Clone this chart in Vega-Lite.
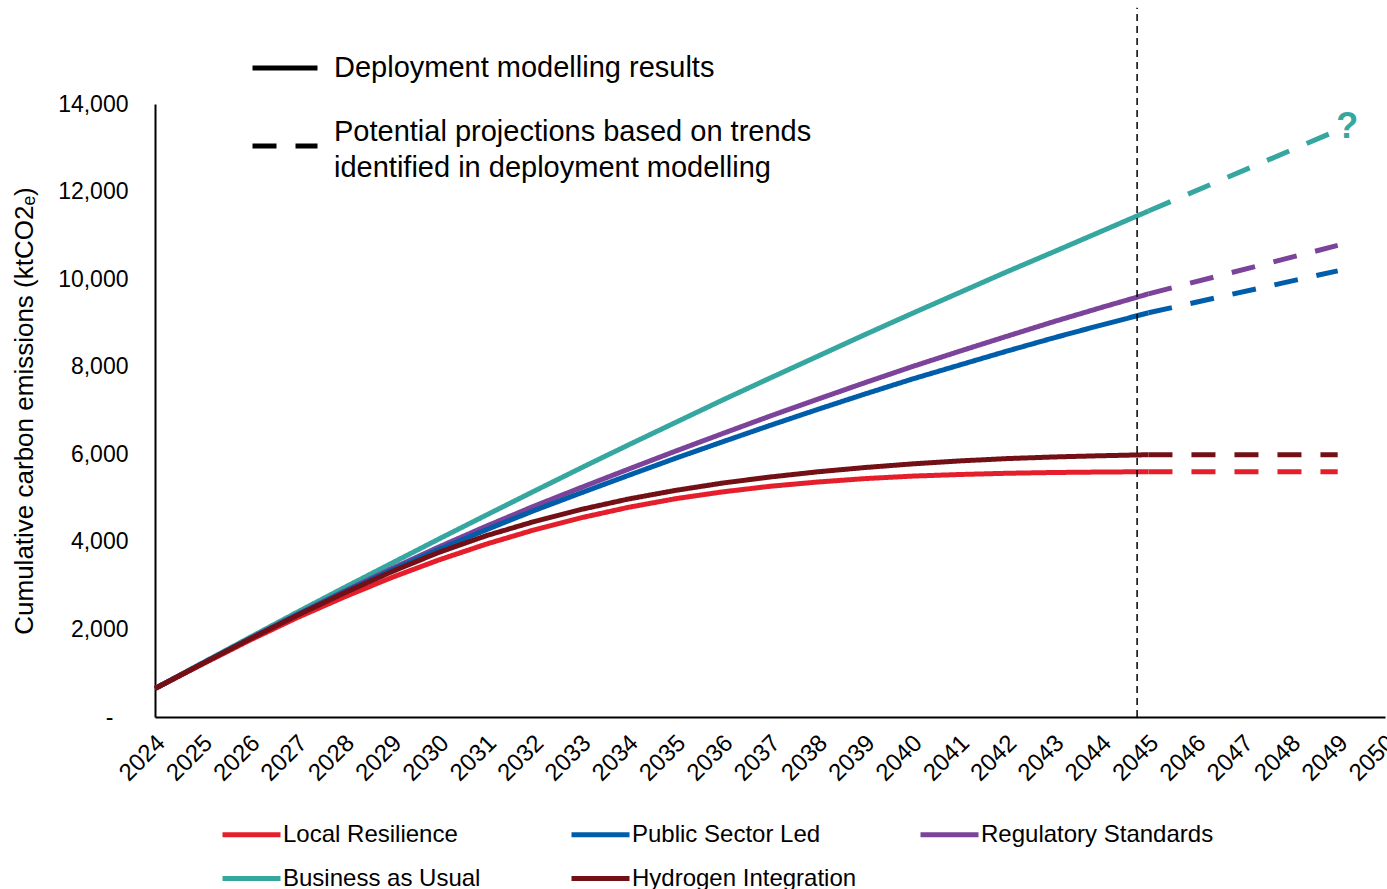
{
  "$schema": "https://vega.github.io/schema/vega-lite/v6.json",
  "width": 1230,
  "height": 613,
  "autosize": {"type": "none"},
  "padding": {"left": 155, "top": 104, "right": 2, "bottom": 172},
  "background": "white",
  "config": {
    "view": {"stroke": null},
    "font": "Liberation Sans",
    "axis": {"grid": false, "ticks": false, "tickSize": 0, "domainColor": "black", "domainWidth": 2, "labelColor": "black", "labelFont": "Liberation Sans", "titleFont": "Liberation Sans", "titleColor": "black", "titleFontWeight": "normal"},
    "legend": {"labelFont": "Liberation Sans", "labelColor": "black"}
  },
  "datasets": {
    "lines": [
      {"scenario": "Business as Usual", "segment": "Deployment modelling results", "year": 2024, "value": 650},
      {"scenario": "Business as Usual", "segment": "Deployment modelling results", "year": 2025, "value": 1235},
      {"scenario": "Business as Usual", "segment": "Deployment modelling results", "year": 2026, "value": 1815},
      {"scenario": "Business as Usual", "segment": "Deployment modelling results", "year": 2027, "value": 2390},
      {"scenario": "Business as Usual", "segment": "Deployment modelling results", "year": 2028, "value": 2955},
      {"scenario": "Business as Usual", "segment": "Deployment modelling results", "year": 2029, "value": 3510},
      {"scenario": "Business as Usual", "segment": "Deployment modelling results", "year": 2030, "value": 4065},
      {"scenario": "Business as Usual", "segment": "Deployment modelling results", "year": 2031, "value": 4610},
      {"scenario": "Business as Usual", "segment": "Deployment modelling results", "year": 2032, "value": 5150},
      {"scenario": "Business as Usual", "segment": "Deployment modelling results", "year": 2033, "value": 5685},
      {"scenario": "Business as Usual", "segment": "Deployment modelling results", "year": 2034, "value": 6210},
      {"scenario": "Business as Usual", "segment": "Deployment modelling results", "year": 2035, "value": 6725},
      {"scenario": "Business as Usual", "segment": "Deployment modelling results", "year": 2036, "value": 7240},
      {"scenario": "Business as Usual", "segment": "Deployment modelling results", "year": 2037, "value": 7740},
      {"scenario": "Business as Usual", "segment": "Deployment modelling results", "year": 2038, "value": 8235},
      {"scenario": "Business as Usual", "segment": "Deployment modelling results", "year": 2039, "value": 8730},
      {"scenario": "Business as Usual", "segment": "Deployment modelling results", "year": 2040, "value": 9215},
      {"scenario": "Business as Usual", "segment": "Deployment modelling results", "year": 2041, "value": 9690},
      {"scenario": "Business as Usual", "segment": "Deployment modelling results", "year": 2042, "value": 10165},
      {"scenario": "Business as Usual", "segment": "Deployment modelling results", "year": 2043, "value": 10625},
      {"scenario": "Business as Usual", "segment": "Deployment modelling results", "year": 2044, "value": 11090},
      {"scenario": "Business as Usual", "segment": "Deployment modelling results", "year": 2045, "value": 11555},
      {"scenario": "Regulatory Standards", "segment": "Deployment modelling results", "year": 2024, "value": 650},
      {"scenario": "Regulatory Standards", "segment": "Deployment modelling results", "year": 2025, "value": 1221},
      {"scenario": "Regulatory Standards", "segment": "Deployment modelling results", "year": 2026, "value": 1788},
      {"scenario": "Regulatory Standards", "segment": "Deployment modelling results", "year": 2027, "value": 2338},
      {"scenario": "Regulatory Standards", "segment": "Deployment modelling results", "year": 2028, "value": 2874},
      {"scenario": "Regulatory Standards", "segment": "Deployment modelling results", "year": 2029, "value": 3388},
      {"scenario": "Regulatory Standards", "segment": "Deployment modelling results", "year": 2030, "value": 3883},
      {"scenario": "Regulatory Standards", "segment": "Deployment modelling results", "year": 2031, "value": 4357},
      {"scenario": "Regulatory Standards", "segment": "Deployment modelling results", "year": 2032, "value": 4810},
      {"scenario": "Regulatory Standards", "segment": "Deployment modelling results", "year": 2033, "value": 5238},
      {"scenario": "Regulatory Standards", "segment": "Deployment modelling results", "year": 2034, "value": 5657},
      {"scenario": "Regulatory Standards", "segment": "Deployment modelling results", "year": 2035, "value": 6071},
      {"scenario": "Regulatory Standards", "segment": "Deployment modelling results", "year": 2036, "value": 6474},
      {"scenario": "Regulatory Standards", "segment": "Deployment modelling results", "year": 2037, "value": 6872},
      {"scenario": "Regulatory Standards", "segment": "Deployment modelling results", "year": 2038, "value": 7255},
      {"scenario": "Regulatory Standards", "segment": "Deployment modelling results", "year": 2039, "value": 7633},
      {"scenario": "Regulatory Standards", "segment": "Deployment modelling results", "year": 2040, "value": 8000},
      {"scenario": "Regulatory Standards", "segment": "Deployment modelling results", "year": 2041, "value": 8351},
      {"scenario": "Regulatory Standards", "segment": "Deployment modelling results", "year": 2042, "value": 8693},
      {"scenario": "Regulatory Standards", "segment": "Deployment modelling results", "year": 2043, "value": 9030},
      {"scenario": "Regulatory Standards", "segment": "Deployment modelling results", "year": 2044, "value": 9351},
      {"scenario": "Regulatory Standards", "segment": "Deployment modelling results", "year": 2045, "value": 9664},
      {"scenario": "Public Sector Led", "segment": "Deployment modelling results", "year": 2024, "value": 650},
      {"scenario": "Public Sector Led", "segment": "Deployment modelling results", "year": 2025, "value": 1221},
      {"scenario": "Public Sector Led", "segment": "Deployment modelling results", "year": 2026, "value": 1783},
      {"scenario": "Public Sector Led", "segment": "Deployment modelling results", "year": 2027, "value": 2328},
      {"scenario": "Public Sector Led", "segment": "Deployment modelling results", "year": 2028, "value": 2854},
      {"scenario": "Public Sector Led", "segment": "Deployment modelling results", "year": 2029, "value": 3353},
      {"scenario": "Public Sector Led", "segment": "Deployment modelling results", "year": 2030, "value": 3827},
      {"scenario": "Public Sector Led", "segment": "Deployment modelling results", "year": 2031, "value": 4275},
      {"scenario": "Public Sector Led", "segment": "Deployment modelling results", "year": 2032, "value": 4709},
      {"scenario": "Public Sector Led", "segment": "Deployment modelling results", "year": 2033, "value": 5116},
      {"scenario": "Public Sector Led", "segment": "Deployment modelling results", "year": 2034, "value": 5515},
      {"scenario": "Public Sector Led", "segment": "Deployment modelling results", "year": 2035, "value": 5908},
      {"scenario": "Public Sector Led", "segment": "Deployment modelling results", "year": 2036, "value": 6286},
      {"scenario": "Public Sector Led", "segment": "Deployment modelling results", "year": 2037, "value": 6659},
      {"scenario": "Public Sector Led", "segment": "Deployment modelling results", "year": 2038, "value": 7022},
      {"scenario": "Public Sector Led", "segment": "Deployment modelling results", "year": 2039, "value": 7374},
      {"scenario": "Public Sector Led", "segment": "Deployment modelling results", "year": 2040, "value": 7716},
      {"scenario": "Public Sector Led", "segment": "Deployment modelling results", "year": 2041, "value": 8036},
      {"scenario": "Public Sector Led", "segment": "Deployment modelling results", "year": 2042, "value": 8354},
      {"scenario": "Public Sector Led", "segment": "Deployment modelling results", "year": 2043, "value": 8660},
      {"scenario": "Public Sector Led", "segment": "Deployment modelling results", "year": 2044, "value": 8951},
      {"scenario": "Public Sector Led", "segment": "Deployment modelling results", "year": 2045, "value": 9231},
      {"scenario": "Local Resilience", "segment": "Deployment modelling results", "year": 2024, "value": 650},
      {"scenario": "Local Resilience", "segment": "Deployment modelling results", "year": 2025, "value": 1206},
      {"scenario": "Local Resilience", "segment": "Deployment modelling results", "year": 2026, "value": 1752},
      {"scenario": "Local Resilience", "segment": "Deployment modelling results", "year": 2027, "value": 2267},
      {"scenario": "Local Resilience", "segment": "Deployment modelling results", "year": 2028, "value": 2741},
      {"scenario": "Local Resilience", "segment": "Deployment modelling results", "year": 2029, "value": 3185},
      {"scenario": "Local Resilience", "segment": "Deployment modelling results", "year": 2030, "value": 3587},
      {"scenario": "Local Resilience", "segment": "Deployment modelling results", "year": 2031, "value": 3948},
      {"scenario": "Local Resilience", "segment": "Deployment modelling results", "year": 2032, "value": 4269},
      {"scenario": "Local Resilience", "segment": "Deployment modelling results", "year": 2033, "value": 4548},
      {"scenario": "Local Resilience", "segment": "Deployment modelling results", "year": 2034, "value": 4787},
      {"scenario": "Local Resilience", "segment": "Deployment modelling results", "year": 2035, "value": 4985},
      {"scenario": "Local Resilience", "segment": "Deployment modelling results", "year": 2036, "value": 5142},
      {"scenario": "Local Resilience", "segment": "Deployment modelling results", "year": 2037, "value": 5269},
      {"scenario": "Local Resilience", "segment": "Deployment modelling results", "year": 2038, "value": 5366},
      {"scenario": "Local Resilience", "segment": "Deployment modelling results", "year": 2039, "value": 5444},
      {"scenario": "Local Resilience", "segment": "Deployment modelling results", "year": 2040, "value": 5501},
      {"scenario": "Local Resilience", "segment": "Deployment modelling results", "year": 2041, "value": 5538},
      {"scenario": "Local Resilience", "segment": "Deployment modelling results", "year": 2042, "value": 5566},
      {"scenario": "Local Resilience", "segment": "Deployment modelling results", "year": 2043, "value": 5584},
      {"scenario": "Local Resilience", "segment": "Deployment modelling results", "year": 2044, "value": 5595},
      {"scenario": "Local Resilience", "segment": "Deployment modelling results", "year": 2045, "value": 5602},
      {"scenario": "Hydrogen Integration", "segment": "Deployment modelling results", "year": 2024, "value": 650},
      {"scenario": "Hydrogen Integration", "segment": "Deployment modelling results", "year": 2025, "value": 1216},
      {"scenario": "Hydrogen Integration", "segment": "Deployment modelling results", "year": 2026, "value": 1778},
      {"scenario": "Hydrogen Integration", "segment": "Deployment modelling results", "year": 2027, "value": 2318},
      {"scenario": "Hydrogen Integration", "segment": "Deployment modelling results", "year": 2028, "value": 2833},
      {"scenario": "Hydrogen Integration", "segment": "Deployment modelling results", "year": 2029, "value": 3317},
      {"scenario": "Hydrogen Integration", "segment": "Deployment modelling results", "year": 2030, "value": 3760},
      {"scenario": "Hydrogen Integration", "segment": "Deployment modelling results", "year": 2031, "value": 4140},
      {"scenario": "Hydrogen Integration", "segment": "Deployment modelling results", "year": 2032, "value": 4459},
      {"scenario": "Hydrogen Integration", "segment": "Deployment modelling results", "year": 2033, "value": 4738},
      {"scenario": "Hydrogen Integration", "segment": "Deployment modelling results", "year": 2034, "value": 4977},
      {"scenario": "Hydrogen Integration", "segment": "Deployment modelling results", "year": 2035, "value": 5175},
      {"scenario": "Hydrogen Integration", "segment": "Deployment modelling results", "year": 2036, "value": 5343},
      {"scenario": "Hydrogen Integration", "segment": "Deployment modelling results", "year": 2037, "value": 5481},
      {"scenario": "Hydrogen Integration", "segment": "Deployment modelling results", "year": 2038, "value": 5599},
      {"scenario": "Hydrogen Integration", "segment": "Deployment modelling results", "year": 2039, "value": 5697},
      {"scenario": "Hydrogen Integration", "segment": "Deployment modelling results", "year": 2040, "value": 5780},
      {"scenario": "Hydrogen Integration", "segment": "Deployment modelling results", "year": 2041, "value": 5848},
      {"scenario": "Hydrogen Integration", "segment": "Deployment modelling results", "year": 2042, "value": 5901},
      {"scenario": "Hydrogen Integration", "segment": "Deployment modelling results", "year": 2043, "value": 5939},
      {"scenario": "Hydrogen Integration", "segment": "Deployment modelling results", "year": 2044, "value": 5967},
      {"scenario": "Hydrogen Integration", "segment": "Deployment modelling results", "year": 2045, "value": 5990},
      {"scenario": "Business as Usual", "segment": "Potential projections based on trends identified in deployment modelling", "year": 2045, "value": 11555},
      {"scenario": "Business as Usual", "segment": "Potential projections based on trends identified in deployment modelling", "year": 2049, "value": 13400},
      {"scenario": "Regulatory Standards", "segment": "Potential projections based on trends identified in deployment modelling", "year": 2045, "value": 9664},
      {"scenario": "Regulatory Standards", "segment": "Potential projections based on trends identified in deployment modelling", "year": 2049, "value": 10770},
      {"scenario": "Public Sector Led", "segment": "Potential projections based on trends identified in deployment modelling", "year": 2045, "value": 9231},
      {"scenario": "Public Sector Led", "segment": "Potential projections based on trends identified in deployment modelling", "year": 2049, "value": 10190},
      {"scenario": "Local Resilience", "segment": "Potential projections based on trends identified in deployment modelling", "year": 2045, "value": 5602},
      {"scenario": "Local Resilience", "segment": "Potential projections based on trends identified in deployment modelling", "year": 2049, "value": 5602},
      {"scenario": "Hydrogen Integration", "segment": "Potential projections based on trends identified in deployment modelling", "year": 2045, "value": 5990},
      {"scenario": "Hydrogen Integration", "segment": "Potential projections based on trends identified in deployment modelling", "year": 2049, "value": 5990}
    ],
    "vline": [{"year": 2044.76, "value": 0, "top": 16200}],
    "qmark": [{"year": 2049.2, "value": 13474, "label": "?"}]
  },
  "layer": [
    {
      "data": {"name": "lines"},
      "mark": {"type": "line", "strokeWidth": 5, "strokeCap": "butt"},
      "encoding": {
        "x": {
          "field": "year", "type": "quantitative",
          "scale": {"domain": [2024, 2050], "nice": false, "zero": false},
          "axis": {
            "title": null,
            "values": [2024, 2025, 2026, 2027, 2028, 2029, 2030, 2031, 2032, 2033, 2034, 2035, 2036, 2037, 2038, 2039, 2040, 2041, 2042, 2043, 2044, 2045, 2046, 2047, 2048, 2049, 2050],
            "format": "d",
            "labelAngle": -45, "labelAlign": "right", "labelBaseline": "middle",
            "labelFontSize": 24, "labelPadding": 22, "labelOffset": 6,
            "labelOverlap": false, "labelFlush": false, "labelBound": false
          }
        },
        "y": {
          "field": "value", "type": "quantitative",
          "scale": {"domain": [0, 14000], "nice": false},
          "axis": {
            "title": "Cumulative carbon emissions (ktCO2ₑ)",
            "titleFontSize": 26, "titlePadding": 20,
            "values": [0, 2000, 4000, 6000, 8000, 10000, 12000, 14000],
            "labelExpr": "datum.value === 0 ? '-' : format(datum.value, ',')",
            "labelFontSize": 23,
            "labelPadding": {"condition": {"test": "datum.value === 0", "value": 42}, "value": 27}
          }
        },
        "color": {
          "field": "scenario", "type": "nominal",
          "scale": {
            "domain": ["Local Resilience", "Public Sector Led", "Regulatory Standards", "Business as Usual", "Hydrogen Integration"],
            "range": ["#E41E2B", "#005DAA", "#7B439A", "#35A7A0", "#731016"]
          },
          "legend": {
            "title": null, "orient": "none", "legendX": 65, "legendY": 699,
            "direction": "horizontal", "columns": 3, "gridAlign": "all",
            "columnPadding": 45, "rowPadding": 0, "padding": 0,
            "symbolType": "stroke", "symbolSize": 3364, "symbolStrokeWidth": 5,
            "labelFontSize": 24, "labelOffset": 0, "labelLimit": 500
          }
        },
        "strokeDash": {
          "field": "segment", "type": "nominal",
          "scale": {
            "domain": ["Deployment modelling results", "Potential projections based on trends identified in deployment modelling"],
            "range": [[1, 0], [24, 19]]
          },
          "legend": {
            "title": null, "orient": "none", "legendX": 95, "legendY": -71,
            "direction": "vertical", "rowPadding": 28, "padding": 0,
            "symbolType": "stroke", "symbolSize": 4225, "symbolStrokeWidth": 5, "symbolStrokeColor": "black",
            "labelFontSize": 29, "labelOffset": 14, "labelLimit": 900,
            "labelExpr": "datum.label == 'Deployment modelling results' ? datum.label : ['Potential projections based on trends', 'identified in deployment modelling']",
            "encode": {"labels": {"update": {"lineHeight": {"value": 36}, "dy": {"signal": "datum.value == 'Deployment modelling results' ? 0 : -14"}}}}
          }
        }
      }
    },
    {
      "data": {"name": "vline"},
      "mark": {"type": "rule", "color": "black", "strokeWidth": 1.5, "strokeDash": [7, 5]},
      "encoding": {
        "x": {"field": "year", "type": "quantitative"},
        "y": {"field": "value", "type": "quantitative"},
        "y2": {"field": "top"}
      }
    },
    {
      "data": {"name": "qmark"},
      "mark": {"type": "text", "fontSize": 36, "fontWeight": "bold", "color": "#35A7A0", "align": "center", "baseline": "middle", "font": "Liberation Sans"},
      "encoding": {
        "x": {"field": "year", "type": "quantitative"},
        "y": {"field": "value", "type": "quantitative"},
        "text": {"field": "label"}
      }
    }
  ]
}
